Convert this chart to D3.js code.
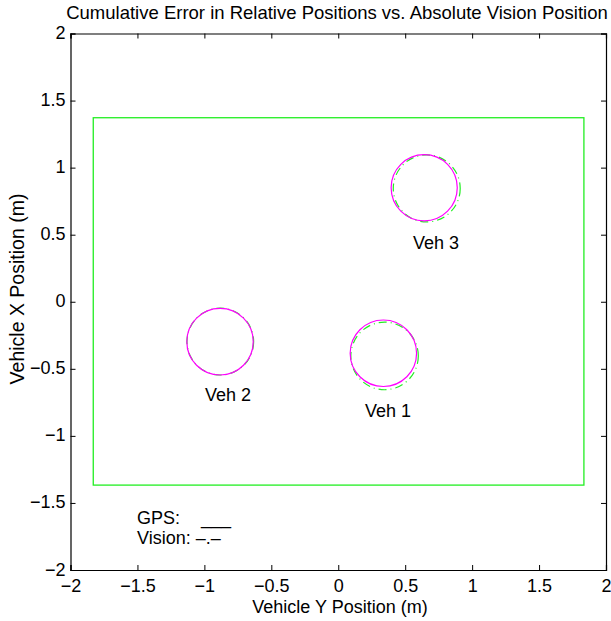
<!DOCTYPE html>
<html>
<head>
<meta charset="utf-8">
<script src="https://cdn.jsdelivr.net/npm/d3@7"></script>
<style>
body { margin: 0; background: #fff; }
text { font-family: "Liberation Sans", Arial, Helvetica, sans-serif; fill: #000; }
</style>
</head>
<body>
<svg id="chart" width="611" height="621"></svg>
<script>
// Data
const xTicks = [-2, -1.5, -1, -0.5, 0, 0.5, 1, 1.5, 2];
const yTicks = [-2, -1.5, -1, -0.5, 0, 0.5, 1, 1.5, 2];
const vehicles = ["Veh 1", "Veh 2", "Veh 3"];
const gpsCenterY = [0.337, -0.883, 0.642];   // horizontal (Vehicle Y)
const gpsCenterX = [-0.384, -0.298, 0.850];  // vertical (Vehicle X)
const gpsRadius = [0.248, 0.248, 0.247];
const visCenterY = [0.346, -0.881, 0.661];
const visCenterX = [-0.404, -0.297, 0.845];
const visRadius = [0.252, 0.249, 0.250];
const labelY = [0.372, -0.823, 0.73];
const labelX = [-0.856, -0.742, 0.397];
const boundaryY = [-1.83, 1.835];
const boundaryX = [-1.367, 1.372];

const svg = d3.select("#chart");
const mLeft = 70.5, mRight = 606, mTop = 33.5, mBottom = 570;
const x = d3.scaleLinear().domain([-2, 2]).range([mLeft, mRight]);
const y = d3.scaleLinear().domain([-2, 2]).range([mBottom, mTop]);
const FS = "18px";

const fmt = d => d3.format("")(d).replace("-", "\u2212");

// Title
svg.append("text").attr("x", 337).attr("y", 19).attr("text-anchor", "middle")
  .style("font-size", "18.5px").text("Cumulative Error in Relative Positions vs. Absolute Vision Position");

// Axes (ticks inward)
const gB = svg.append("g").attr("transform", `translate(0,${mBottom})`)
  .call(d3.axisBottom(x).tickValues(xTicks).tickSize(-5).tickPadding(9).tickFormat(fmt));
const gT = svg.append("g").attr("transform", `translate(0,${mTop})`)
  .call(d3.axisTop(x).tickValues(xTicks).tickSize(-5).tickFormat(""));
const gL = svg.append("g").attr("transform", `translate(${mLeft},0)`)
  .call(d3.axisLeft(y).tickValues(yTicks).tickSize(-5).tickPadding(5).tickFormat(fmt));
const gR = svg.append("g").attr("transform", `translate(${mRight},0)`)
  .call(d3.axisRight(y).tickValues(yTicks).tickSize(-5).tickFormat(""));
[gB, gT, gL, gR].forEach(g => {
  g.select(".domain").attr("stroke", "#000").attr("stroke-width", 1.2);
  g.selectAll(".tick line").attr("stroke", "#000");
  g.selectAll("text").style("font-size", FS).attr("font-family", null);
});
gL.selectAll(".tick text").attr("dy", "0.28em");

// Boundary rectangle
svg.append("rect")
  .attr("x", x(boundaryY[0])).attr("y", y(boundaryX[1]))
  .attr("width", x(boundaryY[1]) - x(boundaryY[0]))
  .attr("height", y(boundaryX[0]) - y(boundaryX[1]))
  .attr("fill", "none").attr("stroke", "#22ee22").attr("stroke-width", 1.3);

// Vision circles (dash-dot)
svg.selectAll("ellipse.vis").data(vehicles).join("ellipse").attr("class", "vis")
  .attr("cx", (d, i) => x(visCenterY[i])).attr("cy", (d, i) => y(visCenterX[i]))
  .attr("rx", (d, i) => x(visRadius[i]) - x(0)).attr("ry", (d, i) => y(0) - y(visRadius[i]))
  .attr("fill", "none").attr("stroke", "#22ee22").attr("stroke-width", 1.2)
  .attr("stroke-dasharray", "8,4,1,4");

// GPS circles (solid)
svg.selectAll("ellipse.gps").data(vehicles).join("ellipse").attr("class", "gps")
  .attr("cx", (d, i) => x(gpsCenterY[i])).attr("cy", (d, i) => y(gpsCenterX[i]))
  .attr("rx", (d, i) => x(gpsRadius[i]) - x(0)).attr("ry", (d, i) => y(0) - y(gpsRadius[i]))
  .attr("fill", "none").attr("stroke", "#ff00ff").attr("stroke-width", 1.2);

// Vehicle labels
svg.selectAll("text.veh").data(vehicles).join("text").attr("class", "veh")
  .attr("x", (d, i) => x(labelY[i])).attr("y", (d, i) => y(labelX[i]))
  .attr("text-anchor", "middle").style("font-size", FS).text(d => d);

// Legend text
svg.append("text").attr("x", 137).attr("y", 523.5).style("font-size", FS).text("GPS:");
svg.append("text").attr("x", 201).attr("y", 523.5).style("font-size", FS).text("___");
svg.append("text").attr("x", 137).attr("y", 543.5).style("font-size", FS).text("Vision: \u2013.\u2013");

// Axis labels
svg.append("text").attr("x", 340).attr("y", 613).attr("text-anchor", "middle")
  .style("font-size", FS).text("Vehicle Y Position (m)");
svg.append("text").attr("transform", "translate(24,289) rotate(-90)").attr("text-anchor", "middle")
  .style("font-size", "19.5px").text("Vehicle X Position (m)");
</script>
</body>
</html>
